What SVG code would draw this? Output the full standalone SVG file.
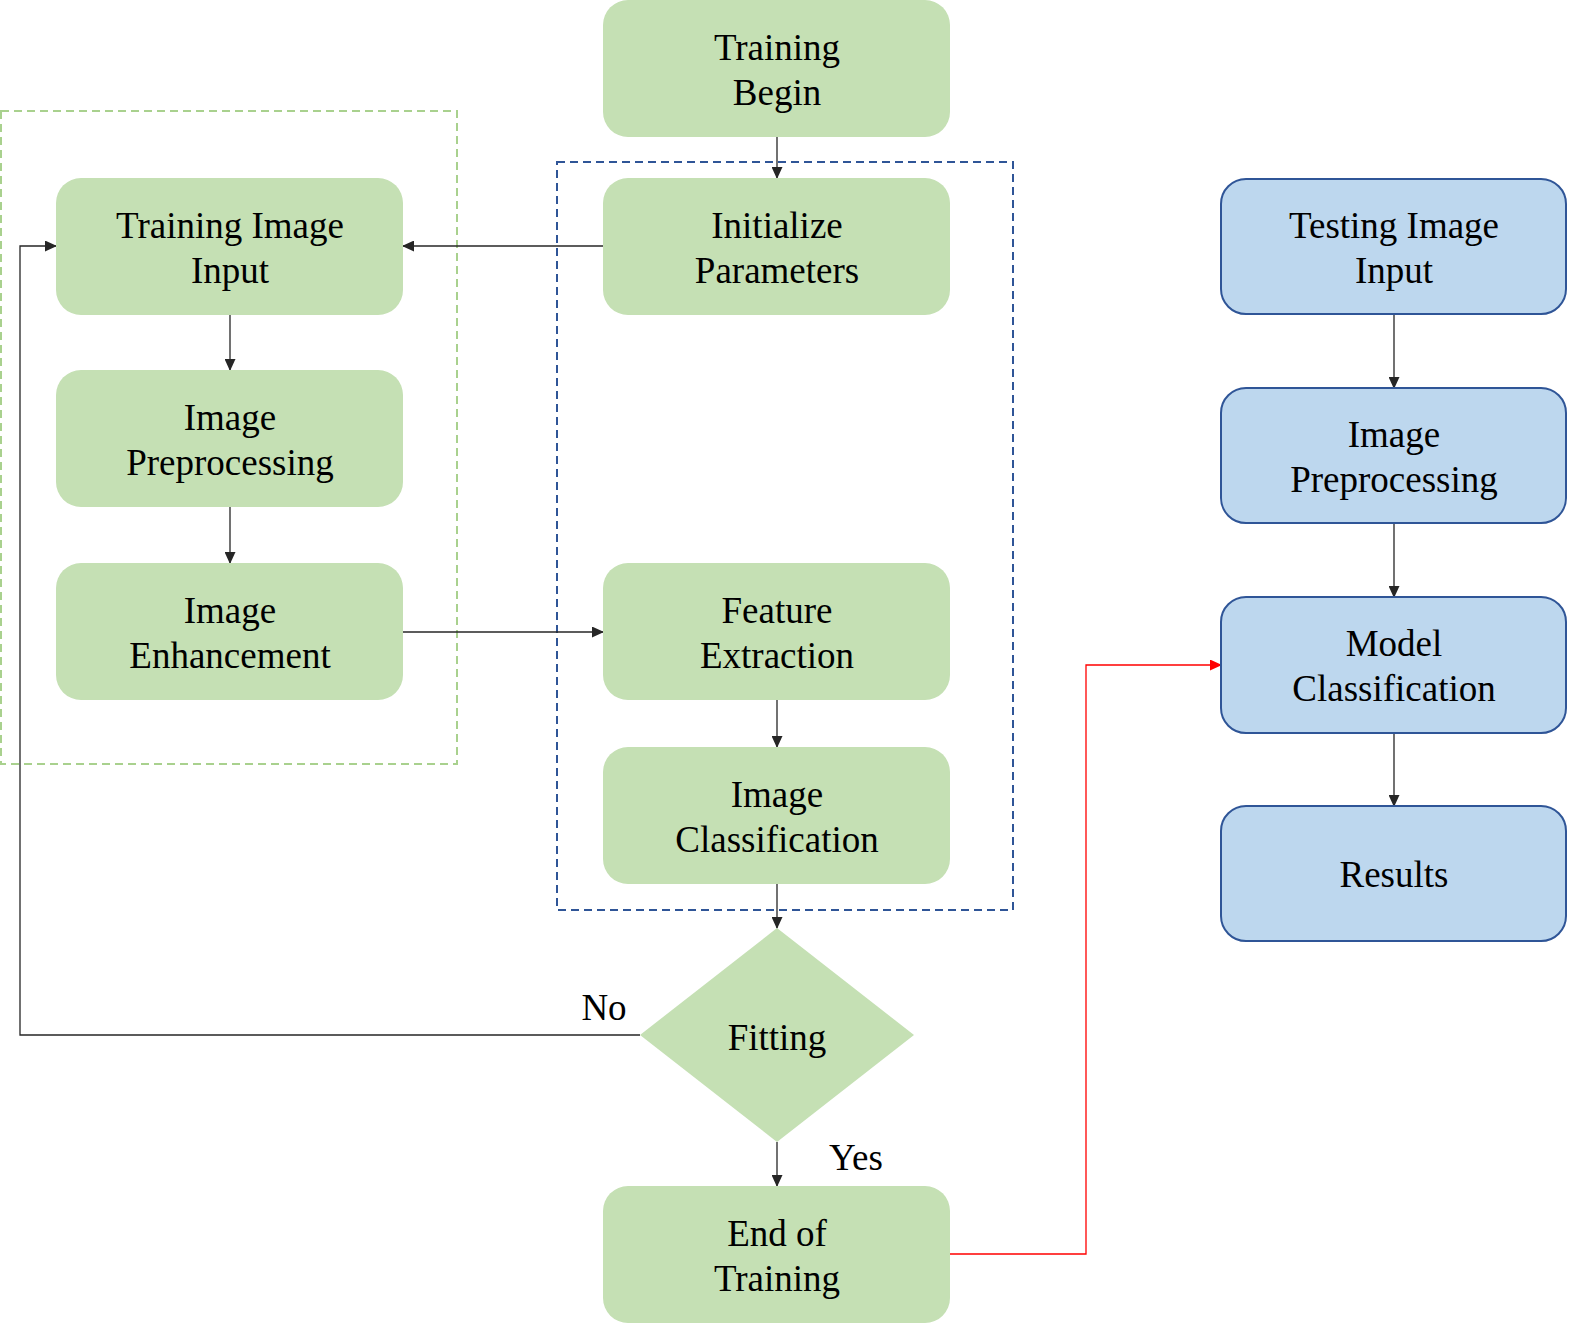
<svg xmlns="http://www.w3.org/2000/svg" width="1573" height="1327" viewBox="0 0 1573 1327">
<style>
.g{fill:#C5E0B4;}
.b{fill:#BDD7EE;stroke:#2F5597;stroke-width:2;}
.t{font-family:"Liberation Serif","Times New Roman",serif;font-size:37px;fill:#000;text-anchor:middle;}
.c{fill:none;stroke:#262626;stroke-width:1.3;}
</style>
<defs>
<marker id="ah" markerWidth="12" markerHeight="11" refX="11" refY="5.5" orient="auto" markerUnits="userSpaceOnUse"><path d="M0,0 L12,5.5 L0,11 Z" fill="#262626"/></marker>
<marker id="ar" markerWidth="12" markerHeight="11" refX="11" refY="5.5" orient="auto" markerUnits="userSpaceOnUse"><path d="M0,0 L12,5.5 L0,11 Z" fill="#FF0000"/></marker>
</defs>
<rect x="1" y="111" width="456" height="653" fill="none" stroke="#A9D18E" stroke-width="2" stroke-dasharray="8,5"/>
<rect x="557" y="162" width="456" height="748" fill="none" stroke="#2F5597" stroke-width="2" stroke-dasharray="8,5"/>
<g id="connectors">
<path class="c" d="M777,137 V178" marker-end="url(#ah)"/>
<path class="c" d="M603,246 H403" marker-end="url(#ah)"/>
<path class="c" d="M230,315 V370" marker-end="url(#ah)"/>
<path class="c" d="M230,507 V563" marker-end="url(#ah)"/>
<path class="c" d="M403,632 H603" marker-end="url(#ah)"/>
<path class="c" d="M777,700 V747" marker-end="url(#ah)"/>
<path class="c" d="M777,884 V928" marker-end="url(#ah)"/>
<path class="c" d="M640,1035 H20 V246 H56" stroke="#595959" marker-end="url(#ah)"/>
<path class="c" d="M777,1142 V1186" marker-end="url(#ah)"/>
<path d="M950,1254 H1086 V665 H1221" fill="none" stroke="#FF0000" stroke-width="1.3" marker-end="url(#ar)"/>
<path class="c" d="M1394,314 V388" marker-end="url(#ah)"/>
<path class="c" d="M1394,523 V597" marker-end="url(#ah)"/>
<path class="c" d="M1394,733 V806" marker-end="url(#ah)"/>
</g>
<g id="training-begin"><rect class="g" x="603" y="0" width="347" height="137" rx="25"/><text class="t" x="777" y="60">Training</text><text class="t" x="777" y="105">Begin</text></g>
<g id="training-image-input"><rect class="g" x="56" y="178" width="347" height="137" rx="25"/><text class="t" x="230" y="238">Training Image</text><text class="t" x="230" y="283">Input</text></g>
<g id="image-preprocessing-train"><rect class="g" x="56" y="370" width="347" height="137" rx="25"/><text class="t" x="230" y="430">Image</text><text class="t" x="230" y="475">Preprocessing</text></g>
<g id="image-enhancement"><rect class="g" x="56" y="563" width="347" height="137" rx="25"/><text class="t" x="230" y="623">Image</text><text class="t" x="230" y="668">Enhancement</text></g>
<g id="initialize-parameters"><rect class="g" x="603" y="178" width="347" height="137" rx="25"/><text class="t" x="777" y="238">Initialize</text><text class="t" x="777" y="283">Parameters</text></g>
<g id="feature-extraction"><rect class="g" x="603" y="563" width="347" height="137" rx="25"/><text class="t" x="777" y="623">Feature</text><text class="t" x="777" y="668">Extraction</text></g>
<g id="image-classification"><rect class="g" x="603" y="747" width="347" height="137" rx="25"/><text class="t" x="777" y="807">Image</text><text class="t" x="777" y="852">Classification</text></g>
<g id="fitting"><polygon class="g" points="777,928 914,1035 777,1142 640,1035"/><text class="t" x="777" y="1050">Fitting</text></g>
<text class="t" x="604" y="1020">No</text>
<text class="t" x="856" y="1170">Yes</text>
<g id="end-of-training"><rect class="g" x="603" y="1186" width="347" height="137" rx="25"/><text class="t" x="777" y="1246">End of</text><text class="t" x="777" y="1291">Training</text></g>
<g id="testing-image-input"><rect class="b" x="1221" y="179" width="345" height="135" rx="25"/><text class="t" x="1394" y="238">Testing Image</text><text class="t" x="1394" y="283">Input</text></g>
<g id="image-preprocessing-test"><rect class="b" x="1221" y="388" width="345" height="135" rx="25"/><text class="t" x="1394" y="447">Image</text><text class="t" x="1394" y="492">Preprocessing</text></g>
<g id="model-classification"><rect class="b" x="1221" y="597" width="345" height="136" rx="25"/><text class="t" x="1394" y="656">Model</text><text class="t" x="1394" y="701">Classification</text></g>
<g id="results"><rect class="b" x="1221" y="806" width="345" height="135" rx="25"/><text class="t" x="1394" y="887">Results</text></g>
</svg>
